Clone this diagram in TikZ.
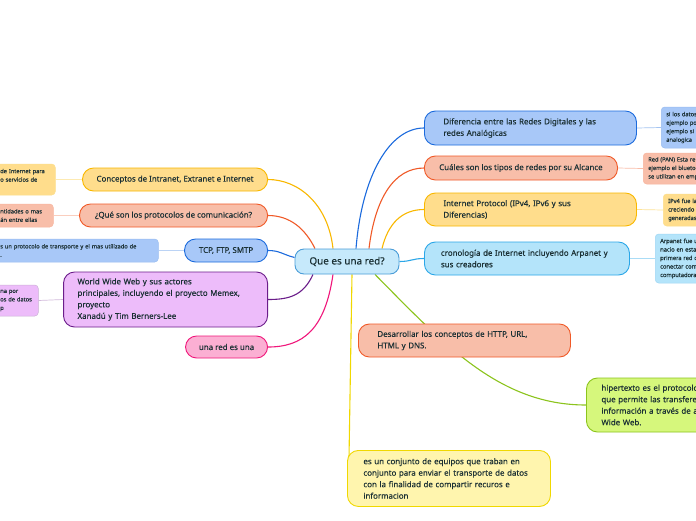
\documentclass[tikz,border=0pt]{standalone}
\usepackage{fontspec}
\setmainfont{Noto Sans}[UprightFeatures={FakeBold=0.35}]
\usetikzlibrary{backgrounds}

\definecolor{ink}{HTML}{1B3034}
\definecolor{rootfill}{HTML}{C6E9FB}
\definecolor{rootline}{HTML}{4A9DD8}
\definecolor{bluefill}{HTML}{A8C8F8}
\definecolor{blueline}{HTML}{1C6BDD}
\definecolor{salmonfill}{HTML}{F8BEA9}
\definecolor{salmonline}{HTML}{F05A28}
\definecolor{yellowfill}{HTML}{FFDD8C}
\definecolor{yellowline}{HTML}{F9B800}
\definecolor{cyanfill}{HTML}{B4E4FA}
\definecolor{cyanline}{HTML}{2BA7E8}
\definecolor{lavfill}{HTML}{EDBCFA}
\definecolor{lavline}{HTML}{6B1D8A}
\definecolor{pinkfill}{HTML}{FBAFD3}
\definecolor{pinkline}{HTML}{F0177B}
\definecolor{greenfill}{HTML}{D6F77C}
\definecolor{greenline}{HTML}{8CC41D}
\definecolor{paleyfill}{HTML}{FFF5AE}
\definecolor{paleyline}{HTML}{F0D800}

\tikzset{
  root/.style={rectangle, rounded corners=9pt, draw=rootline, fill=rootfill, line width=0.9pt,
    minimum width=104pt, minimum height=25pt, font=\fontsize{9.9}{11}\selectfont, text=ink},
  topic/.style={rectangle, rounded corners=11pt, line width=0.9pt, align=left,
    font=\fontsize{7.9}{11.5}\selectfont, text=ink, inner ysep=2pt},
  leaf/.style={rectangle, rounded corners=3.5pt, line width=0.5pt, align=left,
    font=\fontsize{5.7}{8.5}\selectfont, text=ink, inner xsep=5pt, inner ysep=2pt},
  branch/.style={line width=1.1pt},
  twig/.style={line width=0.7pt},
  bluebox/.style={fill=bluefill, draw=blueline},
  salmonbox/.style={fill=salmonfill, draw=salmonline},
  yellowbox/.style={fill=yellowfill, draw=yellowline},
  cyanbox/.style={fill=cyanfill, draw=cyanline},
  lavbox/.style={fill=lavfill, draw=lavline},
  pinkbox/.style={fill=pinkfill, draw=pinkline},
  greenbox/.style={fill=greenfill, draw=greenline},
  paleybox/.style={fill=paleyfill, draw=paleyline},
}

\begin{document}
\begin{tikzpicture}[x=1pt,y=-1pt]
  \useasboundingbox (0,0) rectangle (696,520);
  \clip (0,0) rectangle (696,520);

  % centre
  \node[root] (red) at (347,261.5) {Que es una red?};

  % right side
  \node[topic, bluebox, anchor=west, text width=174pt, inner xsep=19pt, minimum height=34pt] (dif) at (424,128)
    {Diferencia entre las Redes Digitales y las\\redes Analógicas};
  \node[topic, salmonbox, anchor=west, align=center, minimum width=193pt, minimum height=24pt] (alc) at (424,168)
    {Cuáles son los tipos de redes por su Alcance};
  \node[topic, yellowbox, anchor=west, text width=174pt, inner xsep=19pt, minimum height=33pt] (prot) at (424,209.5)
    {Internet Protocol (IPv4, IPv6 y sus\\Diferencias)};
  \node[topic, cyanbox, anchor=west, text width=172pt, inner xsep=16.5pt, minimum height=33pt] (crono) at (424,258.5)
    {cronología de Internet incluyendo Arpanet y\\sus creadores};
  \node[topic, greenbox, anchor=west, text width=160pt, inner xsep=15pt, minimum height=54pt] (hiper) at (586,405)
    {hipertexto es el protocolo\\que permite las transfere\\información a través de a\\Wide Web.};
  \node[topic, paleybox, anchor=north west, text width=171pt, inner xsep=16pt, minimum height=56pt] (conj) at (347,450)
    {es un conjunto de equipos que traban en\\conjunto para enviar el transporte de datos\\con la finalidad de compartir recuros e\\informacion};

  \node[leaf, bluebox, draw=blueline!45, anchor=west, text width=60pt, minimum height=41pt] (ldif) at (661,127.5)
    {si los datos\\ejemplo po\\ejemplo si\\analogica};
  \node[leaf, salmonbox, draw=salmonline!45, anchor=west, text width=60pt, minimum height=31pt] (lalc) at (643,168.5)
    {Red (PAN) Esta re\\ejemplo el blueto\\se utilizan en emp};
  \node[leaf, yellowbox, draw=yellowline!45, anchor=west, text width=60pt, minimum height=32pt] (lprot) at (663,210)
    {IPv4 fue la\\creciendo\\generadas};
  \node[leaf, cyanbox, draw=cyanline!45, anchor=west, text width=60pt, minimum height=49pt] (lcrono) at (655,258.5)
    {Arpanet fue u\\nacio en esta\\primera red c\\conectar com\\computadora};

  % left side
  \node[topic, yellowbox, anchor=east, align=center, minimum width=185pt, minimum height=23pt] (conc) at (268,179.5)
    {Conceptos de Intranet, Extranet e Internet};
  \node[topic, salmonbox, anchor=east, align=center, minimum width=188pt, minimum height=23pt] (com) at (268,215.5)
    {¿Qué son los protocolos de comunicación?};
  \node[topic, bluebox, anchor=east, align=center, minimum width=83pt, minimum height=23pt] (tcp) at (268,250.5)
    {TCP, FTP, SMTP};
  \node[topic, lavbox, anchor=east, text width=176pt, inner xsep=14pt, minimum height=55pt] (www) at (268,299.5)
    {World Wide Web y sus actores\\principales, incluyendo el proyecto Memex,\\proyecto\\Xanadú y Tim Berners-Lee};
  \node[topic, pinkbox, anchor=east, align=center, minimum width=82pt, minimum height=22pt] (una) at (268,347)
    {una red es una};

  \node[leaf, yellowbox, draw=yellowline!45, anchor=west, text width=50pt, minimum height=31pt] (lconc) at (-5,179.5)
    {de Internet para\\o servicios de\\ \mbox{}};
  \node[leaf, salmonbox, draw=salmonline!45, anchor=west, text width=48pt, minimum height=23pt] (lcom) at (-5,215.5)
    {ntidades o mas\\án entre ellas};
  \node[leaf, bluebox, draw=blueline!45, anchor=west, text width=153pt, minimum height=23pt] (ltcp) at (-5,250.5)
    {s un protocolo de transporte y el mas utilizado de\\.};
  \node[leaf, lavbox, draw=lavline!35, anchor=west, text width=34pt, inner xsep=4pt, minimum height=31pt] (lwww) at (-4,300.5)
    {na por\\os de datos\\p};

  % floating topic over the green branch
  \node[topic, salmonbox, anchor=west, text width=174pt, inner xsep=19pt, minimum height=33pt] (desa) at (358,340.5)
    {Desarrollar los conceptos de HTTP, URL,\\HTML y DNS.};

  \begin{scope}[on background layer]
    \fill[white] (0,0) rectangle (696,520);
    \draw[branch, blueline] ([xshift=9pt]red.north) .. controls +(6,-74) and +(-34,0) .. (dif.west);
    \draw[branch, salmonline] ([xshift=22pt]red.north) .. controls +(6,-50) and +(-30,0) .. (alc.west);
    \draw[branch, yellowline] ([xshift=35pt]red.north) .. controls +(6,-25) and +(-22,0) .. (prot.west);
    \draw[branch, cyanline] (red.east) .. controls +(12,0) and +(-12,0) .. (crono.west);
    \draw[branch, greenline] ([xshift=28pt]red.south) .. controls +(70,71) and +(-86,0) .. (hiper.west);
    \draw[branch, paleyline] ([xshift=5pt]red.south) -- ([xshift=2pt,yshift=-8pt]conj.north west);
    \draw[branch, yellowline] ([xshift=-14pt]red.north) .. controls +(-5,-45) and +(30,0) .. (conc.east);
    \draw[branch, salmonline] ([xshift=-32pt]red.north) .. controls +(-10,-20) and +(22,0) .. (com.east);
    \draw[branch, blueline] ([yshift=4pt]red.west) .. controls +(-12,-3) and +(12,0) .. (tcp.east);
    \draw[branch, lavline] ([xshift=-34pt]red.south) .. controls +(-10,22) and +(20,0) .. (www.east);
    \draw[branch, pinkline] ([xshift=-14pt]red.south) .. controls +(-8,55) and +(35,0) .. (una.east);

    \foreach \a/\b/\c in {dif/ldif/blueline, alc/lalc/salmonline, prot/lprot/yellowline, crono/lcrono/cyanline}
      \draw[twig, \c!40] (\a.east) -- (\b.west);
    \foreach \a/\b/\c in {conc/lconc/yellowline, com/lcom/salmonline, tcp/ltcp/blueline, www/lwww/lavline}
      \draw[twig, \c!30] (\a.west) -- (\b.east);
  \end{scope}
\end{tikzpicture}
\end{document}
